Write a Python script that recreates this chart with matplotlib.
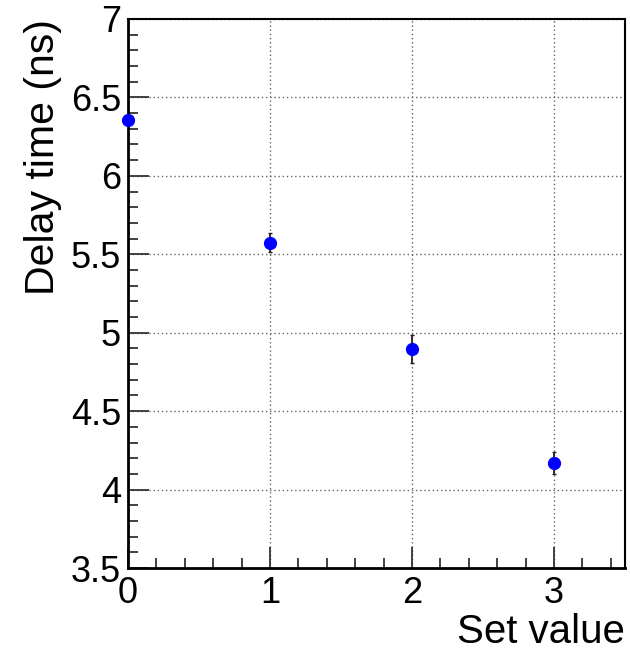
import matplotlib
matplotlib.use("Agg")
import matplotlib.pyplot as plt
from matplotlib.ticker import MultipleLocator

plt.rcParams['font.family'] = ['Liberation Sans', 'DejaVu Sans']

# measured delays per setting
set_value = [0, 1, 2, 3]
delay_ns = [6.355, 5.575, 4.898, 4.170]
delay_err = [0.03, 0.06, 0.09, 0.07]

fig = plt.figure(figsize=(6.3, 6.52), dpi=100)
ax = fig.add_axes([128 / 630, 1 - 568 / 652, 497 / 630, 549 / 652])

ax.errorbar(set_value, delay_ns, yerr=delay_err, fmt='o', color='blue',
            markersize=8.5, ecolor='#222222', elinewidth=1.3, capsize=1.5,
            clip_on=False, zorder=3)

ax.set_xlim(0, 3.5)
ax.set_ylim(3.5, 7)
ax.xaxis.set_major_locator(MultipleLocator(1))
ax.xaxis.set_minor_locator(MultipleLocator(0.2))
ax.yaxis.set_major_locator(MultipleLocator(0.5))
ax.yaxis.set_minor_locator(MultipleLocator(0.1))
ax.set_yticks([3.5, 4, 4.5, 5, 5.5, 6, 6.5, 7])
ax.set_yticklabels(['3.5', '4', '4.5', '5', '5.5', '6', '6.5', '7'])
ax.set_xticks([0, 1, 2, 3])
ax.set_xticklabels(['0', '1', '2', '3'])

ax.grid(True, which='major', linestyle=(0, (1, 2)), color='#666666', linewidth=1)
ax.tick_params(which='both', direction='in', top=False, right=False,
               width=1.3, color='#333333')
ax.tick_params(which='major', length=15, labelsize=26, pad=6)
ax.tick_params(which='minor', length=7)
ax.tick_params(axis='y', which='major', pad=5)

for side in ['left', 'bottom']:
    ax.spines[side].set_linewidth(2)
for side in ['top', 'right']:
    ax.spines[side].set_linewidth(1.5)

ax.set_xlabel('Set value', fontsize=29, loc='right', labelpad=1)
ax.set_ylabel('Delay time (ns)', fontsize=29.5, loc='top', labelpad=6)

fig.savefig('out.png', dpi=100)
